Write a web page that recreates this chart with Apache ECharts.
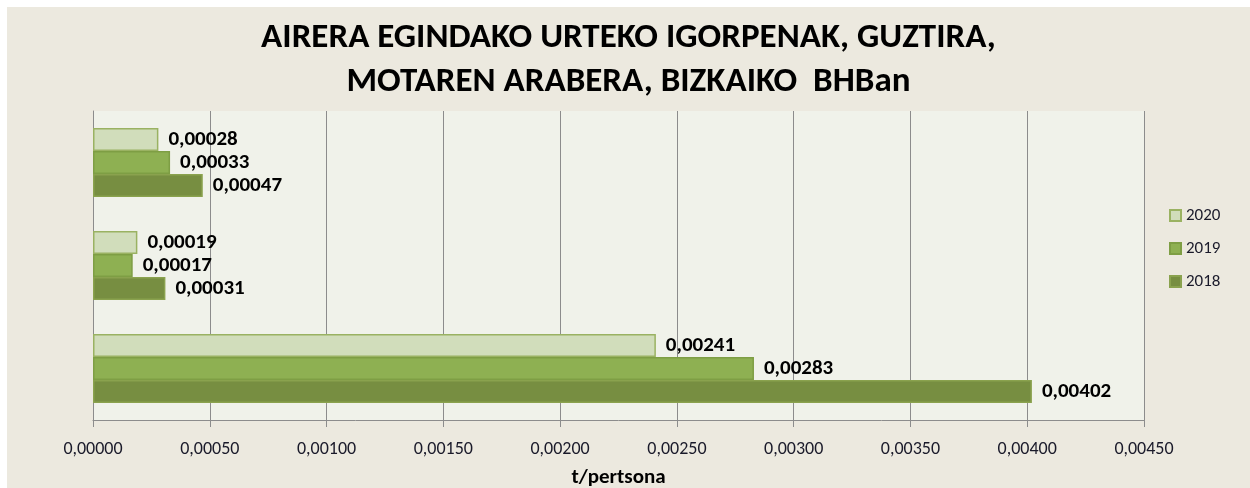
<!DOCTYPE html>
<html>
<head>
<meta charset="utf-8">
<script src="https://cdn.jsdelivr.net/npm/echarts@6/dist/echarts.min.js"></script>
<style>
  html, body { margin: 0; padding: 0; background: #ffffff; }
  #chart { position: absolute; left: 7px; top: 7px; width: 1243px; height: 481px; background: #ECE9DF; }
</style>
</head>
<body>
<div id="chart"></div>
<script>
// categories bottom -> top (ECharts draws the first category at the bottom)
const categories = ["Guztira", "Mota A", "Mota B"]
const years = ["2020", "2019", "2018"]
const values2018 = [0.00402, 0.00031, 0.00047]
const values2019 = [0.00283, 0.00017, 0.00033]
const values2020 = [0.00241, 0.00019, 0.00028]
const xTicks = { min: 0, max: 0.0045, interval: 0.0005 }

const fills = { "2018": "#778E41", "2019": "#8EB052", "2020": "#D1DDBB" }
const borders = { "2018": "#8AA24E", "2019": "#7E9E44", "2020": "#9AB262" }
const seriesValues = { "2018": values2018, "2019": values2019, "2020": values2020 }

const fmt = (v) => v.toFixed(5).replace(".", ",")
const font = "Carlito, 'Liberation Sans Narrow', 'DejaVu Sans Condensed', sans-serif"

const chart = echarts.init(document.getElementById("chart"))
chart.setOption({
  backgroundColor: "transparent",
  animation: false,
  title: {
    text: "AIRERA EGINDAKO URTEKO IGORPENAK, GUZTIRA,\nMOTAREN ARABERA, BIZKAIKO  BHBan",
    left: "center",
    top: 4,
    textStyle: { fontFamily: font, fontSize: 35, fontWeight: "bold", color: "#000", lineHeight: 44 },
  },
  legend: {
    data: ["2020", "2019", "2018"],
    orient: "vertical",
    left: 1157,
    top: 195,
    icon: "rect",
    itemWidth: 11,
    itemHeight: 11,
    itemGap: 16,
    textStyle: { fontFamily: font, fontSize: 17, color: "#1a1a2a" },
  },
  grid: {
    left: 86, right: 106, top: 104, bottom: 68,
    outerBoundsMode: "none",
    backgroundColor: "#F0F2EA", show: true, borderWidth: 0,
  },
  xAxis: {
    type: "value",
    min: xTicks.min,
    max: xTicks.max,
    interval: xTicks.interval,
    name: "t/pertsona",
    nameLocation: "middle",
    nameGap: 47,
    nameTextStyle: { fontFamily: font, fontSize: 21, fontWeight: "bold", color: "#000" },
    axisLine: { show: true, lineStyle: { color: "#8c8c8c" } },
    axisTick: { show: true, length: 7, lineStyle: { color: "#8c8c8c" } },
    axisLabel: { formatter: fmt, margin: 20, fontFamily: font, fontSize: 18, color: "#1a1a2a" },
    splitLine: { show: true, lineStyle: { color: "#8c8c8c" } },
  },
  yAxis: {
    type: "category",
    data: categories,
    axisLine: { show: true, lineStyle: { color: "#8c8c8c" } },
    axisTick: { show: false },
    axisLabel: { show: false },
  },
  series: years.map((y) => ({
    name: y,
    type: "bar",
    data: seriesValues[y],
    barGap: "0%",
    barCategoryGap: "33%",
    itemStyle: { color: fills[y], borderColor: borders[y], borderWidth: 1.5 },
    label: {
      show: true,
      position: "right",
      distance: 10,
      formatter: (p) => fmt(p.value),
      fontFamily: font,
      fontSize: 21,
      fontWeight: "bold",
      color: "#000",
    },
  })),
})
</script>
</body>
</html>
